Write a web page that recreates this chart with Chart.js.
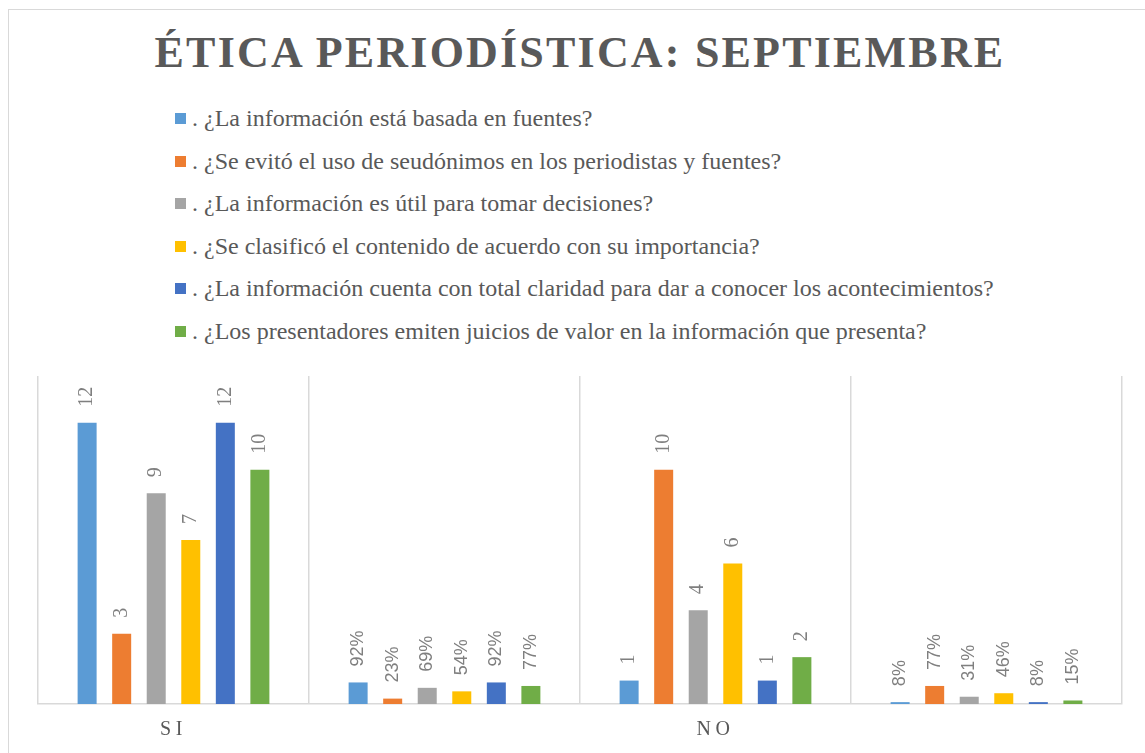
<!DOCTYPE html>
<html lang="es">
<head>
<meta charset="utf-8">
<title>Ética periodística: septiembre</title>
<script src="https://cdn.jsdelivr.net/npm/chart.js@4.4.1/dist/chart.umd.min.js"></script>
<style>
  html, body { margin: 0; padding: 0; background: #fff; }
  body { width: 1145px; height: 753px; position: relative; overflow: hidden; }
  #marco { position: absolute; left: 8px; top: 9px; width: 1150px; height: 800px; border: 1px solid #d9d9d9; box-sizing: border-box; }
  #titulo {
    position: absolute; left: 9px; top: 31px; width: 1136px; padding-left: 6px; box-sizing: border-box;
    text-align: center; font-family: "Liberation Serif", "Times New Roman", serif; font-weight: bold;
    font-size: 44px; line-height: 44px; letter-spacing: 2.2px; color: #595959; white-space: nowrap;
  }
  #leyenda { position: absolute; left: 175px; top: 97px; }
  .fila { position: relative; height: 42.5px; line-height: 42.5px; padding-left: 17px;
    font-family: "Liberation Serif", "Times New Roman", serif; font-size: 24px; color: #595959; white-space: nowrap; }
  .fila span.caja { position: absolute; left: 0; top: 16px; width: 11px; height: 11px; }
  #grafico { position: absolute; left: 0; top: 0; }
</style>
</head>
<body>
<div id="marco"></div>
<div id="titulo">ÉTICA PERIODÍSTICA: SEPTIEMBRE</div>
<div id="leyenda"></div>
<canvas id="grafico" width="1145" height="753"></canvas>
<script>
// categorias del eje x (las columnas de porcentaje no llevan nombre)
const categorias = ["SI", "", "NO", ""];
const columnasPorcentaje = [1, 3];

const preguntas = [
  ". ¿La información está basada en fuentes?",
  ". ¿Se evitó el uso de seudónimos en los periodistas y fuentes?",
  ". ¿La información es útil para tomar decisiones?",
  ". ¿Se clasificó el contenido de acuerdo con su importancia?",
  ". ¿La información cuenta con total claridad para dar a conocer los acontecimientos?",
  ". ¿Los presentadores emiten juicios de valor en la información que presenta?",
];

// SI, % SI, NO, % NO
const fuentes = [12, 0.92, 1, 0.08];
const seudonimos = [3, 0.23, 10, 0.77];
const utilidad = [9, 0.69, 4, 0.31];
const importancia = [7, 0.54, 6, 0.46];
const claridad = [12, 0.92, 1, 0.08];
const juicios = [10, 0.77, 2, 0.15];

const colores = ["#5B9BD5", "#ED7D31", "#A5A5A5", "#FFC000", "#4472C4", "#70AD47"];
const series = [fuentes, seudonimos, utilidad, importancia, claridad, juicios];

const etiquetasBarras = {
  id: "etiquetasBarras",
  beforeDraw(chart) {
    chart.ctx.letterSpacing = "4.5px";
  },
  beforeDatasetsDraw(chart) {
    chart.ctx.letterSpacing = "0px";
  },
  afterDatasetsDraw(chart) {
    const ctx = chart.ctx;
    ctx.save();
    ctx.fillStyle = "#7f7f7f";
    ctx.textAlign = "left";
    ctx.textBaseline = "middle";
    chart.data.datasets.forEach((ds, i) => {
      chart.getDatasetMeta(i).data.forEach((barra, j) => {
        const valor = ds.data[j];
        const esPct = columnasPorcentaje.includes(j);
        const texto = esPct ? Math.round(valor * 100) + "%" : String(valor);
        ctx.font = esPct ? '18px "Liberation Sans", Arial, sans-serif'
                         : '20px "Liberation Serif", "Times New Roman", serif';
        ctx.save();
        ctx.translate(barra.x, barra.y - 16);
        ctx.rotate(-Math.PI / 2);
        ctx.fillText(texto, 0, 0);
        ctx.restore();
      });
    });
    ctx.restore();
  },
};

function crearLeyenda(chart) {
  const cont = document.getElementById("leyenda");
  cont.innerHTML = "";
  chart.data.datasets.forEach((ds) => {
    const fila = document.createElement("div");
    fila.className = "fila";
    const caja = document.createElement("span");
    caja.className = "caja";
    caja.style.background = ds.backgroundColor;
    fila.appendChild(caja);
    fila.appendChild(document.createTextNode(ds.label));
    cont.appendChild(fila);
  });
}

const ctx = document.getElementById("grafico").getContext("2d");
const grafico = new Chart(ctx, {
  type: "bar",
  data: {
    labels: categorias,
    datasets: series.map((datos, i) => ({
      label: preguntas[i],
      data: datos,
      backgroundColor: colores[i],
      borderWidth: 0,
      categoryPercentage: 0.765,
      barPercentage: 0.55,
    })),
  },
  options: {
    responsive: false,
    animation: false,
    layout: { padding: { left: 38, right: 23, top: 376, bottom: 0 } },
    plugins: {
      legend: { display: false },
      title: { display: false },
      tooltip: { enabled: false },
    },
    scales: {
      x: {
        grid: { color: "#d9d9d9", lineWidth: 1.5, drawTicks: false, offset: true },
        border: { color: "#d9d9d9", width: 1.5 },
        ticks: {
          color: "#595959",
          padding: 14,
          font: { family: '"Liberation Serif", "Times New Roman", serif', size: 20 },
        },
        afterFit(scale) { scale.height = 49; },
      },
      y: {
        display: false,
        min: 0,
        max: 14,
      },
    },
  },
  plugins: [etiquetasBarras],
});

crearLeyenda(grafico);
</script>
</body>
</html>
